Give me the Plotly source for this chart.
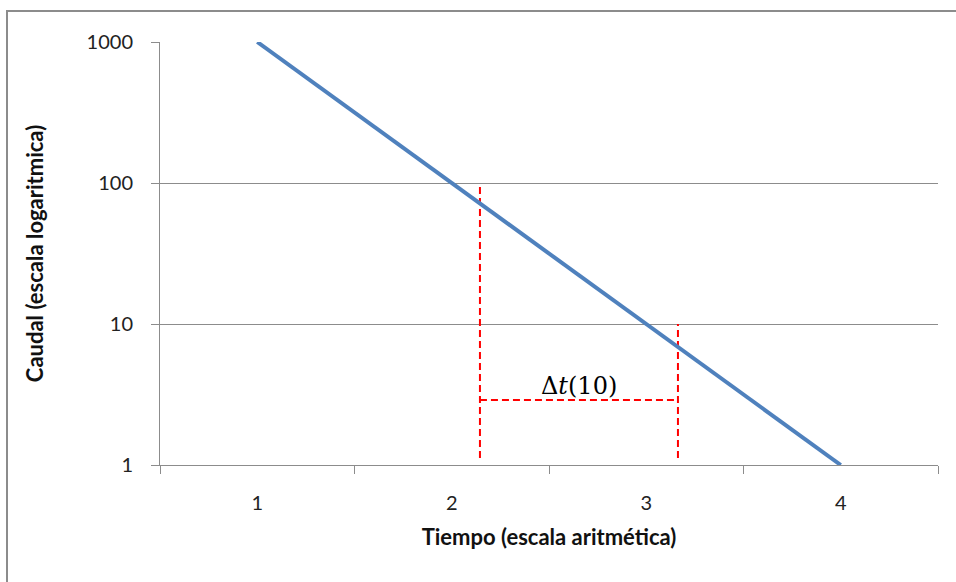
import math
import plotly.graph_objects as go

# Data
tiempo = [1, 2, 3, 4]
caudal = [1000, 100, 10, 1]
x_ticks = [1, 2, 3, 4]
x_tick_labels = ["1", "2", "3", "4"]
y_ticks = [1, 10, 100, 1000]
y_tick_labels = ["1", "10", "100", "1000"]
category_edges = [0.5, 1.5, 2.5, 3.5, 4.5]

# Dashed guide lines
guide1_x = [2.145, 2.145]
guide1_y = [1.12, 100]
guide2_x = [3.163, 3.163]
guide2_y = [1.12, 10]
guide_h_x = [2.145, 3.163]
guide_h_y = [2.89, 2.89]
label_x = 2.654
label_y = 3.65
label_text = "Δ<i>t</i>(10)"

W, H = 956, 582
L, R, T, B = 160, 18, 42, 117

fig = go.Figure()
red = dict(color="#FF0000", width=2, dash="7px,4px")
for gx, gy in [(guide1_x, guide1_y), (guide2_x, guide2_y), (guide_h_x, guide_h_y)]:
    fig.add_trace(go.Scatter(x=gx, y=gy, mode="lines", line=red,
                             hoverinfo="skip", showlegend=False))
fig.add_trace(go.Scatter(x=tiempo, y=caudal, mode="lines",
                         line=dict(color="#4F81BD", width=4), showlegend=False))

fig.add_annotation(x=label_x, y=math.log10(label_y), xref="x", yref="y", text=label_text,
                   showarrow=False, font=dict(family="DejaVu Serif", size=24, color="#000"),
                   xanchor="center", yanchor="middle")

# outer border (top & left visible)
fig.add_shape(type="rect", xref="paper", yref="paper",
              x0=(7 - L) / (W - L - R), x1=(W + 20 - L) / (W - L - R),
              y0=(H - B - (H + 20)) / (H - T - B), y1=(H - B - 11) / (H - T - B),
              line=dict(color="#8C8C8C", width=2), layer="below")

fig.update_layout(
    width=W, height=H,
    margin=dict(l=L, r=R, t=T, b=B),
    paper_bgcolor="white", plot_bgcolor="white",
    font=dict(family="Lato", size=20, color="#222"),
    xaxis=dict(range=[0.5, 4.5], tickvals=x_ticks, ticktext=x_tick_labels,
               ticks="", showgrid=False, zeroline=False, showline=True,
               linecolor="#8C8C8C", linewidth=1, ticklabelstandoff=20,
               minor=dict(tickvals=category_edges, ticks="outside", ticklen=8,
                          tickcolor="#8C8C8C", showgrid=False),
               title=dict(text="<b>Tiempo (escala aritmética)</b>", standoff=16,
                          font=dict(size=22, color="#111"))),
    yaxis=dict(type="log", range=[0, 3], tickvals=y_ticks, ticktext=y_tick_labels,
               ticks="outside", ticklen=8, tickcolor="#8C8C8C",
               showgrid=True, gridcolor="#8C8C8C", gridwidth=1,
               showline=True, linecolor="#8C8C8C", linewidth=1, zeroline=False,
               ticklabelstandoff=14,
               title=dict(text="<b>Caudal (escala logaritmica)</b>", standoff=36,
                          font=dict(size=22, color="#111"))),
)

fig.write_html("out.html")
